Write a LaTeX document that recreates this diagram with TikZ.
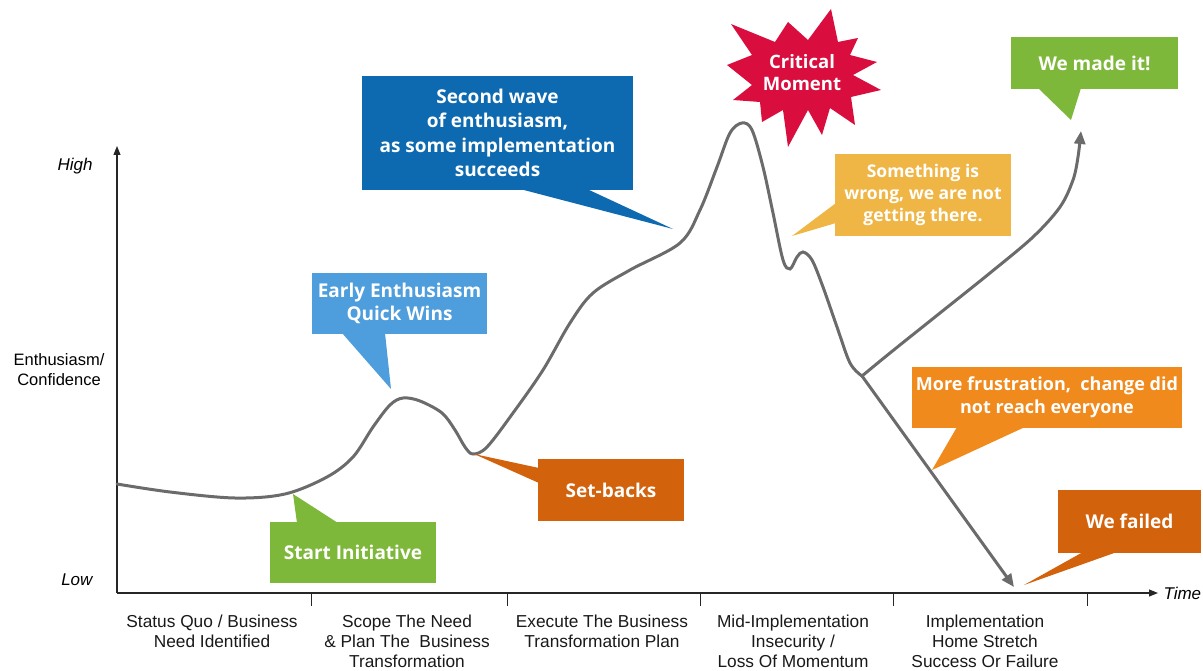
\documentclass[tikz,border=0pt]{standalone}
\usepackage{fontspec}
\setmainfont{Liberation Sans}
\newfontfamily\boxfont{Open Sans}
\usetikzlibrary{arrows.meta}

\definecolor{curvegray}{HTML}{6B6B6B}
\definecolor{startgreen}{HTML}{7DB83A}
\definecolor{skyblue}{HTML}{4E9DDC}
\definecolor{deepblue}{HTML}{0D6AB0}
\definecolor{rust}{HTML}{D2620B}
\definecolor{crimson}{HTML}{DA0E3E}
\definecolor{gold}{HTML}{EFB545}
\definecolor{tangerine}{HTML}{F08A1C}

\begin{document}
\begin{tikzpicture}[x=1pt,y=-1pt,
    axis/.style={draw=black!85,line width=1.1pt,-{Triangle[length=9pt,width=7pt]}},
    curve/.style={draw=curvegray,line width=3pt,line cap=round},
    bubble/.style={fill=#1,text=white,inner sep=0pt,align=center,
      font=\boxfont\bfseries\fontsize{19}{23}\selectfont},
    phase/.style={anchor=north,align=center,text=black!90,
      font=\fontsize{17.3}{20}\selectfont},
    level/.style={anchor=east,font=\itshape\fontsize{17}{20}\selectfont}]
  \useasboundingbox (0,0) rectangle (1203,671);

  % axes
  \coordinate (O) at (117,593);
  \coordinate (top) at (117,146);
  \coordinate (right) at (1158,593);
  \draw[axis] (O) -- (top);
  \draw[axis] (O) -- (right);
  \node[anchor=west,font=\itshape\fontsize{17}{20}\selectfont] (time) at (1160,593) {Time};
  \node[level] (high) at (96,166) {High};
  \node[level] (low) at (96,580) {Low};
  \node[align=center,font=\fontsize{16.5}{20}\selectfont] (conf) at (59,370) {Enthusiasm/\\Confidence};

  % phases along the time axis
  \foreach \x in {311,507,700,893,1087}
    \draw[draw=black!85,line width=0.9pt] (\x,593) -- (\x,606);
  \node[phase] (p1) at (212,611) {Status Quo / Business\\Need Identified};
  \node[phase] (p2) at (407,611) {Scope The Need\\\& Plan The\ \ Business\\Transformation};
  \node[phase] (p3) at (602,611) {Execute The Business\\Transformation Plan};
  \node[phase] (p4) at (793,611) {Mid-Implementation\\Insecurity /\\Loss Of Momentum};
  \node[phase] (p5) at (985,611) {Implementation\\Home Stretch\\Success Or Failure};

  % the enthusiasm curve
  \coordinate (fork) at (862,376);
  \coordinate (win) at (1081,131);
  \coordinate (fail) at (1014,587);
  \draw[curve] plot[smooth,tension=0.55] coordinates {
    (117,484) (170,492) (235,498) (285,494) (327,477) (353,457) (373,427)
    (390,405) (403,398) (420,401) (442,413) (455,430) (465,447) (473,454)
    (487,447) (513,413) (543,370) (570,323) (593,293) (630,270) (680,243)
    (700,210) (717,167) (730,133) (742,123) (752,130) (763,167) (773,213)
    (783,260) (790,269) (797,257) (803,252) (812,260) (823,287) (837,327)
    (850,363) (fork)};
  \draw[curve,-{Triangle[length=13pt,width=11pt]}] plot[smooth,tension=0.55] coordinates {
    (fork) (890,353) (940,313) (990,273) (1033,237) (1060,207) (1073,180)
    (1078,157) (win)};
  \draw[curve,-{Triangle[length=13pt,width=11pt]}] (fork) -- (fail);

  % callouts
  \fill[startgreen] (297,523) -- (293,494) -- (338,523) -- cycle;
  \node[bubble=startgreen,minimum width=166pt,minimum height=61pt] (start) at (353,552) {Start Initiative};

  \fill[skyblue] (342,333) -- (391,389) -- (385,333) -- cycle;
  \node[bubble=skyblue,minimum width=175pt,minimum height=61pt] (early) at (399.5,303.5) {Early Enthusiasm\\Quick Wins};

  \fill[rust] (539,468) -- (474,454) -- (539,483) -- cycle;
  \node[bubble=rust,minimum width=146pt,minimum height=62pt] (setback) at (611,490) {Set-backs};

  \fill[deepblue] (520,189) -- (673,229) -- (587,189) -- cycle;
  \node[bubble=deepblue,minimum width=271pt,minimum height=114pt,
    font=\boxfont\bfseries\fontsize{19}{24.5}\selectfont] (second) at (497.5,133) {Second wave\\of enthusiasm,\\as some implementation\\succeeds};

  \fill[crimson] (731,24) -- (775,42) -- (788,22) -- (808,40) -- (831,9)
    -- (838,42) -- (858,38) -- (850,55) -- (877,62) -- (853,75) -- (881,90)
    -- (851,97) -- (855,125) -- (830,108) -- (822,135) -- (808,110)
    -- (788,147) -- (783,110) -- (762,122) -- (760,102) -- (733,100)
    -- (752,85) -- (727,65) -- (752,55) -- cycle;
  \node[text=white,align=center,font=\boxfont\bfseries\fontsize{18.5}{22}\selectfont] (critical) at (802,73) {Critical\\Moment};

  \fill[gold] (836,203) -- (792,236) -- (836,223) -- cycle;
  \node[bubble=gold,minimum width=176pt,minimum height=82pt,
    font=\boxfont\bfseries\fontsize{17.5}{22}\selectfont] (wrong) at (923,195) {Something is\\wrong, we are not\\getting there.};

  \fill[tangerine] (957,427) -- (932,470) -- (1025,427) -- cycle;
  \node[bubble=tangerine,minimum width=270pt,minimum height=61pt,
    font=\boxfont\bfseries\fontsize{18}{23}\selectfont] (frust) at (1047,397.5) {More frustration,\ \ change did\\not reach everyone};

  \fill[startgreen] (1038,88) -- (1071,120) -- (1081,88) -- cycle;
  \node[bubble=startgreen,minimum width=167pt,minimum height=52pt] (made) at (1094.5,63) {We made it!};

  \fill[rust] (1083,552) -- (1024,585) -- (1117,552) -- cycle;
  \node[bubble=rust,minimum width=143pt,minimum height=63pt] (failed) at (1129.5,521.5) {We failed};
\end{tikzpicture}
\end{document}
